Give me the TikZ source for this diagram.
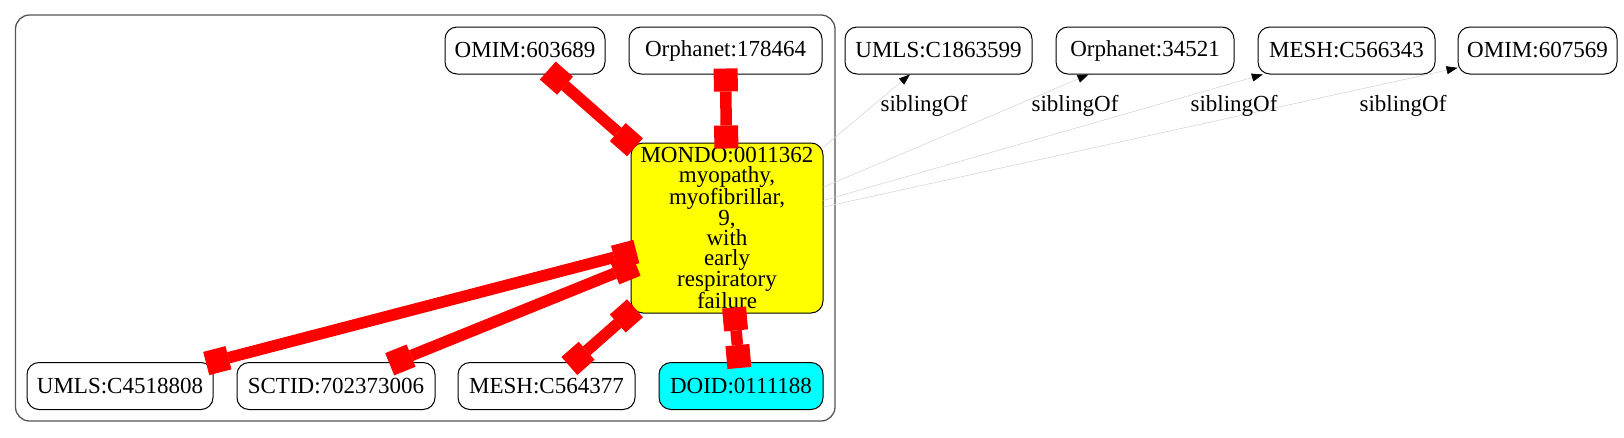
\documentclass[tikz,border=0pt]{standalone}
\usepackage{fontspec}
\setmainfont{Liberation Serif}
\usetikzlibrary{arrows.meta}
\definecolor{gvyellow}{RGB}{255,255,0}
\definecolor{gvcyan}{RGB}{0,255,255}
\definecolor{gvred}{RGB}{255,0,0}
\definecolor{gvgray}{RGB}{85,85,85}
\definecolor{gvlight}{RGB}{215,215,215}
\begin{document}
\begin{tikzpicture}[x=1pt,y=-1pt,
  idnode/.style={draw=black, line width=1pt, rounded corners=12pt, minimum height=47pt,
    inner sep=0pt, fill=white, font=\fontsize{23}{20}\selectfont},
  mondonode/.style={idnode, fill=gvyellow, align=center, minimum height=170pt},
  doidnode/.style={idnode, fill=gvcyan},
  cluster/.style={draw=gvgray, line width=1.3pt, rounded corners=14pt, inner sep=0pt},
  teeedge/.style={draw=gvred, line width=11.5pt,
    {Rectangle[length=23pt,width=24pt,line width=0pt]}-{Rectangle[length=23pt,width=24pt,line width=0pt]},
    shorten <=-6pt, shorten >=-6pt},
  sibedge/.style={draw=gvlight, line width=0.6pt, -{Triangle[length=11pt,width=8pt,black]}},
  siblabel/.style={inner sep=0pt, font=\fontsize{23}{20}\selectfont}
]
\useasboundingbox (0,0) rectangle (1624,437);
% cluster
\node[cluster, minimum width=819.5pt, minimum height=406pt] (clu) at (425.25,218) {};
% nodes inside cluster
\node[idnode, minimum width=160pt] (omimA) at (525,50.5) {OMIM:603689};
\node[idnode, minimum width=193pt] (orphA) at (725.5,50.5) {Orphanet:178464};
\node[mondonode, minimum width=192pt] (mondo) at (727,228) {MONDO:0011362\\myopathy,\\myofibrillar,\\9,\\with\\early\\respiratory\\failure};
\node[idnode, minimum width=186pt] (umlsA) at (120,386) {UMLS:C4518808};
\node[idnode, minimum width=198pt] (sctid) at (336,386) {SCTID:702373006};
\node[idnode, minimum width=177pt] (meshA) at (546.5,386) {MESH:C564377};
\node[doidnode, minimum width=164pt] (doid) at (741,386) {DOID:0111188};
% outside nodes
\node[idnode, minimum width=187pt] (umlsB) at (938.5,50.5) {UMLS:C1863599};
\node[idnode, minimum width=178pt] (orphB) at (1145,50.5) {Orphanet:34521};
\node[idnode, minimum width=177pt] (meshB) at (1346.5,50.5) {MESH:C566343};
\node[idnode, minimum width=159pt] (omimB) at (1537.5,50.5) {OMIM:607569};
% red tee edges
\draw[teeedge] (omimA) -- (mondo);
\draw[teeedge] (orphA) -- (mondo);
\draw[teeedge] (mondo) -- (umlsA);
\draw[teeedge] (mondo) -- (sctid);
\draw[teeedge] (mondo) -- (meshA);
\draw[teeedge] (mondo) -- (doid);
% sibling edges
\draw[sibedge] (mondo) -- (umlsB);
\draw[sibedge] (mondo) -- (orphB);
\draw[sibedge] (mondo) -- (meshB);
\draw[sibedge] (mondo) -- (omimB);
\node[siblabel] (l1) at (924,106) {siblingOf};
\node[siblabel] (l2) at (1075,106) {siblingOf};
\node[siblabel] (l3) at (1234,106) {siblingOf};
\node[siblabel] (l4) at (1403,106) {siblingOf};
\end{tikzpicture}
\end{document}
